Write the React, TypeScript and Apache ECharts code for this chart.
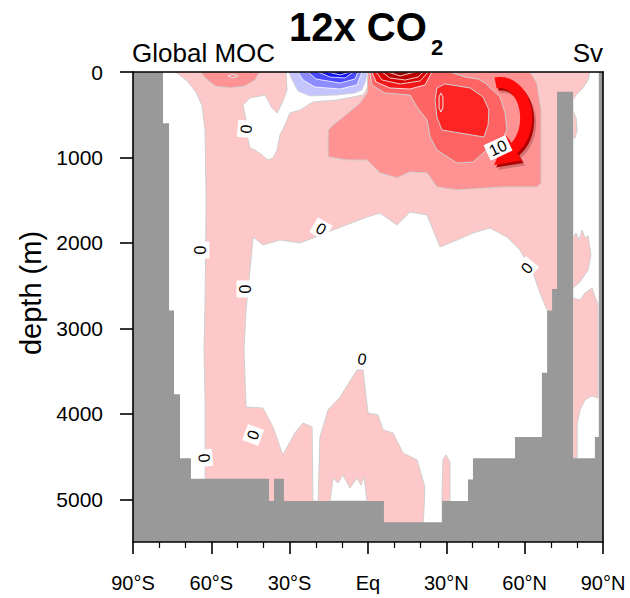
import React, { useEffect, useRef } from "react";
import * as echarts from "echarts";

const FONT = '"Liberation Sans", Arial, Helvetica, sans-serif';

// axes
const latMin = -90;
const latMax = 90;
const depthMax = 5500;
const depthTicks = [0, 1000, 2000, 3000, 4000, 5000];

// bathymetry (step floor): lat edges and floor depth (m) of each segment
const bathyLatEdges = [-90, -78.5, -76.2, -74.3, -72.0, -67.8, -37.9, -36.0, -32.2, 6.1, 28.3, 38.3, 40.2, 56.3, 66.6, 68.6, 70.5, 72.4, 78.5, 86.9, 88.5, 90];
const bathyFloor = [0, 600, 2790, 3770, 4520, 4760, 5020, 4760, 5020, 5270, 5020, 4770, 4520, 4270, 3520, 2790, 2540, 230, 4520, 4270, 0];

// contour regions [lat, depth]
const oceanBase = [[-90, 0], [90, 0], [90, 5500], [-90, 5500]];
const zeroWhiteWest = [[-79.7, 0], [-73.9, 0], [-72.0, 35], [-68.9, 117], [-65.9, 234], [-63.6, 386], [-62.4, 679], [-62.0, 1498], [-62.4, 2668], [-62.8, 3253], [-62.4, 3838], [-62.4, 4774], [-79.7, 4774]];
const zeroWhiteUpper = [[-47.9, 386], [-45.2, 304], [-39.4, 269], [-36.8, 421], [-34.8, 480], [-32.9, 363], [-31.0, 211], [-31.4, 0], [0.0, 0], [0.4, 94], [0.0, 176], [-1.9, 269], [-11.9, 328], [-21.1, 351], [-26.0, 445], [-29.9, 480], [-31.8, 620], [-33.7, 737], [-34.8, 913], [-36.4, 1006], [-38.3, 1030], [-40.6, 971], [-43.3, 913], [-45.2, 889], [-46.3, 737], [-46.7, 562]];
const zeroWhiteCentral = [[-21.1, 5020], [-21.4, 4154], [-24.9, 4107], [-28.0, 4224], [-32.6, 4481], [-36.4, 4154], [-40.2, 3932], [-46.7, 3920], [-47.5, 3253], [-46.7, 2785], [-45.2, 2317], [-44.0, 1931], [-40.2, 2024], [-33.7, 1966], [-26.0, 2001], [-13.4, 1849], [-0.4, 1697], [4.6, 1650], [8.4, 1732], [11.1, 1790], [16.1, 1638], [22.6, 1673], [27.6, 2048], [34.1, 1966], [40.2, 1884], [46.7, 1826], [53.2, 1931], [58.2, 2083], [63.2, 2352], [65.9, 2586], [68.2, 2762], [69.3, 2810], [69.3, 5360], [21.1, 5360], [21.8, 4856], [18.8, 4540], [13.4, 4458], [9.6, 4224], [5.8, 4189], [3.8, 4014], [0.0, 3990], [-1.9, 3487], [-4.2, 3487], [-10.7, 3803], [-15.3, 3955], [-18.4, 4271], [-19.1, 5020]];
const zeroWhiteNotches = [[-14.5, 5020], [-13.4, 4751], [-11.5, 4809], [-9.6, 4716], [-6.9, 4868], [-4.2, 4751], [-2.7, 4833], [-1.5, 4739], [-0.4, 5020]];
const pinkSpikeNorth = [[28.3, 5020], [28.7, 4540], [29.9, 4481], [31.4, 4563], [31.4, 5020]];
const arcticWhite = [[88.5, 0], [85.0, 0], [84.3, 94], [82.3, 187], [79.7, 269], [78.5, 328], [78.5, 4540], [88.5, 4540]];
const arcticPinkA = [[78.5, 456], [79.7, 538], [80.1, 679], [79.3, 772], [78.5, 772]];
const arcticPinkB = [[78.5, 1943], [79.7, 1884], [80.8, 1966], [82.0, 1849], [83.1, 1943], [84.3, 1919], [85.4, 2141], [84.3, 2317], [81.2, 2457], [78.5, 2528]];
const arcticPinkC = [[78.5, 2645], [81.2, 2668], [83.1, 2586], [85.8, 2528], [88.1, 2727], [88.1, 3815], [85.8, 3791], [83.1, 3838], [81.2, 3955], [80.1, 4131], [80.1, 4517], [78.5, 4517]];
const sv5PatchSouth = [[-64.0, 0], [-62.4, 70], [-58.6, 164], [-52.9, 187], [-47.1, 164], [-43.3, 94], [-41.4, 0]];
const sv10RingSouth = [[-53.6, 47], [-51.7, 23], [-49.8, 47], [-51.7, 70]];
const sv5North = [[0, 0], [62.1, 0], [64.7, 129], [66.3, 445], [66.3, 1299], [64.7, 1346], [51.7, 1346], [34.1, 1381], [26.4, 1346], [22.6, 1182], [16.1, 1170], [11.1, 1240], [4.6, 1182], [-0.4, 1030], [-8.0, 1030], [-15.3, 995], [-15.3, 679], [-13.4, 620], [-9.6, 527], [-3.1, 363], [-0.4, 246]];
const sv10North = [[0.8, 0], [1.5, 152], [6.5, 246], [16.1, 269], [18.8, 410], [22.6, 562], [23.8, 761], [26.4, 913], [34.1, 1065], [40.2, 1053], [46.7, 878], [51.3, 796], [53.2, 679], [52.5, 480], [50.6, 293], [44.8, 129], [42.1, 82], [37.2, 59], [31.4, 0]];
const sv15North = [[25.7, 328], [26.4, 187], [29.5, 140], [39.1, 187], [44.1, 293], [46.3, 445], [46.0, 620], [44.4, 761], [35.2, 714], [28.3, 679], [26.4, 527]];
const sv20Ring = [[27.9, 246], [28.7, 293], [28.7, 421], [27.9, 468], [27.2, 421], [27.2, 293]];
const surfRed1 = [[1.5, 0], [3.1, 117], [8.4, 187], [16.1, 199], [21.8, 152], [24.5, 0]];
const surfRed2 = [[3.1, 0], [5.4, 94], [12.3, 140], [19.9, 105], [23.0, 0]];
const surfRed3 = [[5.4, 0], [8.4, 70], [14.2, 94], [19.2, 59], [21.1, 0]];
const surfRed4 = [[7.7, 0], [12.3, 47], [18.0, 0]];
const surfBlue1 = [[-30.3, 0], [-29.1, 94], [-26.8, 222], [-22.2, 281], [-11.9, 269], [-5.0, 246], [-2.3, 211], [-0.8, 94], [-0.4, 0]];
const surfBlue2 = [[-26.8, 0], [-24.9, 94], [-20.3, 176], [-10.7, 199], [-4.2, 152], [-2.3, 0]];
const surfBlue3 = [[-23.0, 0], [-19.9, 82], [-10.7, 129], [-5.0, 82], [-3.8, 0]];
const surfBlue4 = [[-19.1, 0], [-14.5, 59], [-8.8, 70], [-5.7, 0]];
const surfBlue5 = [[-15.3, 0], [-10.7, 35], [-6.9, 0]];

// contour labels
const labelText = ["0", "0", "0", "0", "0", "0", "0", "0", "10"];
const labelLat = [-46.7, -64.0, -47.1, -18.0, -44.0, -62.8, -2.3, 60.9, 49.8];
const labelDepth = [667, 2083, 2539, 1837, 4248, 4517, 3359, 2294, 889];
const labelAngle = [85, 90, 90, -30, 70, 95, -10, 50, 25];

// circulation arrow anchor (centre of arc)
const arrowAnchor = [50.6, 538];

const LIGHT = "#ffc8c8";
const MED = "#ff9292";
const SALMON = "#ff6464";
const RED = "#ff2424";
const LINE = "#cfcfcf";

function landPolygon() {
  const pts: number[][] = [[latMin, depthMax]];
  for (let i = 0; i < bathyFloor.length; i++) {
    pts.push([bathyLatEdges[i], bathyFloor[i]]);
    pts.push([bathyLatEdges[i + 1], bathyFloor[i]]);
  }
  pts.push([latMax, depthMax]);
  return pts;
}

const layers: any[] = [
  { pts: oceanBase, fill: LIGHT },
  { pts: zeroWhiteWest, fill: "#ffffff", stroke: LINE, lw: 1 },
  { pts: zeroWhiteUpper, fill: "#ffffff", stroke: LINE, lw: 1 },
  { pts: zeroWhiteCentral, fill: "#ffffff", stroke: LINE, lw: 1 },
  { pts: zeroWhiteNotches, fill: "#ffffff", stroke: LINE, lw: 1 },
  { pts: pinkSpikeNorth, fill: LIGHT, stroke: LINE, lw: 1 },
  { pts: arcticWhite, fill: "#ffffff", stroke: LINE, lw: 1 },
  { pts: arcticPinkA, fill: LIGHT, stroke: LINE, lw: 1 },
  { pts: arcticPinkB, fill: LIGHT, stroke: LINE, lw: 1 },
  { pts: arcticPinkC, fill: LIGHT, stroke: LINE, lw: 1 },
  { pts: sv5PatchSouth, fill: MED, stroke: LINE, lw: 1 },
  { pts: sv10RingSouth, fill: "none", stroke: "#dddddd", lw: 1 },
  { pts: sv5North, fill: MED, stroke: LINE, lw: 1 },
  { pts: sv10North, fill: SALMON, stroke: LINE, lw: 1 },
  { pts: sv15North, fill: RED, stroke: LINE, lw: 1 },
  { pts: sv20Ring, fill: "none", stroke: "#e8e8e8", lw: 1 },
  { pts: surfRed1, fill: "#f01818", stroke: "#ffffff", lw: 0.8 },
  { pts: surfRed2, fill: "#d80000", stroke: "#ffffff", lw: 0.8 },
  { pts: surfRed3, fill: "#bb0000", stroke: "#ffffff", lw: 0.8 },
  { pts: surfRed4, fill: "#990000", stroke: "#ffffff", lw: 0.8 },
  { pts: surfBlue1, fill: "#c4c4ff", stroke: LINE, lw: 0.8 },
  { pts: surfBlue2, fill: "#8c8cff", stroke: "#ffffff", lw: 0.8 },
  { pts: surfBlue3, fill: "#4a4aff", stroke: "#ffffff", lw: 0.8 },
  { pts: surfBlue4, fill: "#1414f0", stroke: "#ffffff", lw: 0.8 },
  { pts: surfBlue5, fill: "#0000b4", stroke: "#ffffff", lw: 0.8 },
  { pts: landPolygon(), fill: "#999999" },
];

function arrowShape(cx: number, cy: number) {
  const d2r = Math.PI / 180;
  const t0 = -100;
  const t1 = 58;
  const pts: number[][] = [];
  for (let t = t0; t <= t1 + 0.01; t += 2) pts.push([cx + 32 * Math.cos(t * d2r), cy + 41 * Math.sin(t * d2r)]);
  const r1 = t1 * d2r;
  const mid = [cx + 26 * Math.cos(r1), cy + 35.5 * Math.sin(r1)];
  const tg = [-26 * Math.sin(r1), 35.5 * Math.cos(r1)];
  const tl = Math.hypot(tg[0], tg[1]);
  pts.push([cx + 40 * Math.cos(r1), cy + 50 * Math.sin(r1)]);
  pts.push([mid[0] + (26 * tg[0]) / tl, mid[1] + (26 * tg[1]) / tl]);
  pts.push([cx + 12 * Math.cos(r1), cy + 21 * Math.sin(r1)]);
  for (let t = t1; t >= t0 - 0.01; t -= 2) pts.push([cx + 20 * Math.cos(t * d2r), cy + 30 * Math.sin(t * d2r)]);
  return pts;
}

export default function App() {
  const ref = useRef<HTMLDivElement>(null);
  useEffect(() => {
    document.body.style.margin = "0";
    if (!ref.current) return;
    const chart = echarts.init(ref.current, undefined, { renderer: "svg" });
    const axisLineStyle = { color: "#000", width: 1.6 };
    const option: any = {
      animation: false,
      backgroundColor: "#ffffff",
      grid: { left: 133, right: 27, top: 72, bottom: 56 },
      xAxis: [
        {
          type: "value",
          min: latMin,
          max: latMax,
          interval: 30,
          z: 10,
          axisLine: { show: true, onZero: false, lineStyle: axisLineStyle },
          axisTick: { show: true, length: 12, lineStyle: { color: "#000", width: 1.6 } },
          minorTick: { show: true, splitNumber: 3, length: 6, lineStyle: { color: "#000", width: 1.2 } },
          splitLine: { show: false },
          axisLabel: {
            color: "#000",
            fontSize: 20,
            fontFamily: FONT,
            margin: 31,
            formatter: (v: number) => (v === 0 ? "Eq" : v < 0 ? `${-v}°S` : `${v}°N`),
          },
        },
        {
          type: "value",
          position: "top",
          min: latMin,
          max: latMax,
          z: 10,
          axisLine: { show: true, onZero: false, lineStyle: axisLineStyle },
          axisTick: { show: false },
          axisLabel: { show: false },
          splitLine: { show: false },
        },
      ],
      yAxis: [
        {
          type: "value",
          inverse: true,
          min: 0,
          max: depthMax,
          interval: 1000,
          z: 10,
          axisLine: { show: true, onZero: false, lineStyle: axisLineStyle },
          axisTick: { show: true, length: 13, customValues: depthTicks, lineStyle: { color: "#000", width: 1.6 } },
          splitLine: { show: false },
          axisLabel: {
            color: "#000",
            fontSize: 21,
            fontFamily: FONT,
            margin: 30,
            customValues: depthTicks,
            formatter: (v: number) => (v % 1000 === 0 ? String(v) : ""),
          },
        },
        {
          type: "value",
          position: "right",
          inverse: true,
          min: 0,
          max: depthMax,
          z: 10,
          axisLine: { show: true, onZero: false, lineStyle: axisLineStyle },
          axisTick: { show: false },
          axisLabel: { show: false },
          splitLine: { show: false },
        },
      ],
      series: [
        {
          type: "custom",
          coordinateSystem: "cartesian2d",
          xAxisIndex: 0,
          yAxisIndex: 0,
          clip: true,
          silent: true,
          z: 2,
          data: layers.map(() => [0, 0]),
          renderItem: (params: any, api: any) => {
            const L = layers[params.dataIndex];
            return {
              type: "polygon",
              z2: params.dataIndex,
              shape: { points: L.pts.map((p: number[]) => api.coord(p)) },
              style: { fill: L.fill, stroke: L.stroke || null, lineWidth: L.lw || 0 },
            };
          },
        },
        {
          type: "custom",
          coordinateSystem: "cartesian2d",
          xAxisIndex: 0,
          yAxisIndex: 0,
          silent: true,
          z: 5,
          data: [arrowAnchor],
          renderItem: (params: any, api: any) => {
            const c = api.coord([api.value(0), api.value(1)]);
            const pts = arrowShape(c[0], c[1]);
            const shift = (dx: number, dy: number) => pts.map((p) => [p[0] + dx, p[1] + dy]);
            return {
              type: "group",
              children: [
                { type: "polygon", shape: { points: shift(4, 5) }, style: { fill: "rgba(60,0,0,0.22)" } },
                { type: "polygon", shape: { points: shift(2, 2.5) }, style: { fill: "#b00000" } },
                { type: "polygon", shape: { points: pts }, style: { fill: "#ff0a0a" } },
              ],
            };
          },
        },
        {
          type: "custom",
          coordinateSystem: "cartesian2d",
          xAxisIndex: 0,
          yAxisIndex: 0,
          silent: true,
          z: 6,
          data: labelLat.map((la, i) => [la, labelDepth[i]]),
          renderItem: (params: any, api: any) => {
            const i = params.dataIndex;
            const c = api.coord([api.value(0), api.value(1)]);
            const txt = labelText[i];
            const w = txt.length > 1 ? 24 : 17;
            return {
              type: "group",
              x: c[0],
              y: c[1],
              rotation: (labelAngle[i] * Math.PI) / 180,
              children: [
                { type: "rect", shape: { x: -w / 2, y: -8.5, width: w, height: 17 }, style: { fill: "#ffffff" } },
                {
                  type: "text",
                  style: {
                    text: txt,
                    x: 0,
                    y: 0,
                    fill: "#000",
                    font: `16px ${FONT}`,
                    align: "center",
                    verticalAlign: "middle",
                    textAlign: "center",
                    textVerticalAlign: "middle",
                  },
                },
              ],
            };
          },
        },
      ],
      graphic: [
        { type: "text", x: 289, y: 27, style: { text: "12x CO", font: `bold 40px ${FONT}`, fill: "#000", verticalAlign: "middle", textVerticalAlign: "middle" } },
        { type: "text", x: 431, y: 47, style: { text: "2", font: `bold 22px ${FONT}`, fill: "#000", verticalAlign: "middle", textVerticalAlign: "middle" } },
        { type: "text", x: 132, y: 53, style: { text: "Global MOC", font: `26px ${FONT}`, fill: "#000", verticalAlign: "middle", textVerticalAlign: "middle" } },
        { type: "text", x: 603, y: 53, style: { text: "Sv", font: `26px ${FONT}`, fill: "#000", align: "right", textAlign: "right", verticalAlign: "middle", textVerticalAlign: "middle" } },
        { type: "text", x: 31, y: 293, rotation: Math.PI / 2, style: { text: "depth (m)", font: `29px ${FONT}`, fill: "#000", align: "center", textAlign: "center", verticalAlign: "middle", textVerticalAlign: "middle" } },
      ],
    };
    chart.setOption(option);
    return () => chart.dispose();
  }, []);
  return <div ref={ref} style={{ width: 630, height: 598 }} />;
}
